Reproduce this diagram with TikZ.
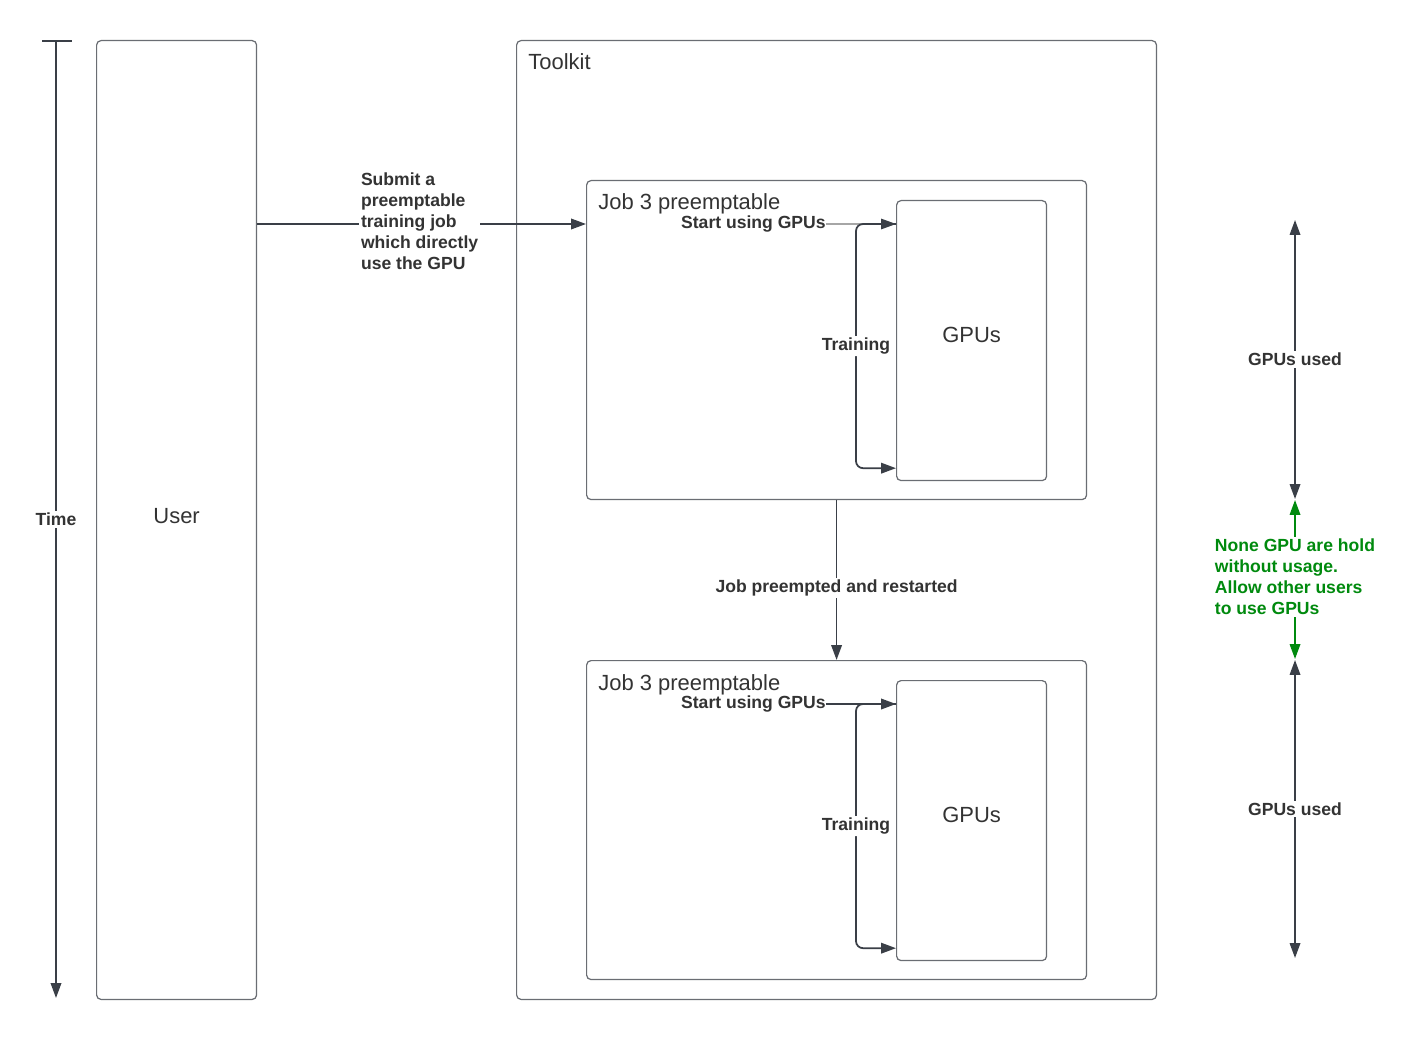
\documentclass[tikz,border=0pt]{standalone}
\usepackage{fontspec}
\setmainfont{Liberation Sans}
\usetikzlibrary{arrows.meta,calc}
\definecolor{linedark}{HTML}{3A3F47}
\definecolor{boxgray}{HTML}{6A6D73}
\definecolor{txtdark}{HTML}{333333}
\definecolor{notegreen}{HTML}{008A0E}

\begin{document}
\begin{tikzpicture}[
  x=0.02cm, y=-0.02cm,
  >={Triangle[length=8.5pt,width=6pt]},
  panel/.style={rectangle, draw=boxgray, line width=0.7pt, rounded corners=2.5pt, anchor=north west,
    inner sep=0pt},
  title/.style={anchor=base west, inner sep=0pt, text=txtdark, font=\fontsize{12.5}{15}\selectfont},
  lbl/.style={fill=white, inner sep=1pt, text=txtdark, font=\fontsize{10}{12}\selectfont\bfseries},
  conn/.style={draw=linedark, line width=1pt, ->},
  twoway/.style={draw=linedark, line width=1pt, <->}
]
\useasboundingbox (0,0) rectangle (1415,1040);

% time axis
\coordinate (ttop) at (56,41);
\coordinate (tbot) at (56,998);
\draw[draw=linedark, line width=1pt] ($(ttop)+(-14,0)$) -- ($(ttop)+(16,0)$);
\draw[conn] (ttop) -- node[lbl] {Time} (tbot);

% lanes
\node[panel, minimum width=3.2cm, minimum height=19.18cm] (user) at (96,40) {};
\node[title, anchor=center] at ($(user.center)+(0,-3.5)$) {User};
\node[panel, minimum width=12.8cm, minimum height=19.18cm] (toolkit) at (516,40) {};
\node[title] at (528,70) {Toolkit};

% first run
\node[panel, minimum width=10cm, minimum height=6.38cm] (jobA) at (586,180) {};
\node[title] at (598,210) {Job 3 preemptable};
\node[panel, minimum width=3cm, minimum height=5.6cm] (gpuA) at (896,200) {};
\node[title, anchor=center] at ($(gpuA.center)+(0,-6)$) {GPUs};
\node[lbl, fill=none, inner sep=0pt, anchor=east] (startA) at (826,224) {Start using GPUs};
\draw[draw=gray!70, line width=0.6pt, -{Triangle[length=8.5pt,width=6pt,color=linedark]}]
  (startA.east) -- (gpuA.west |- startA.east);
\draw[conn, rounded corners=4pt] (gpuA.west |- startA.east) -- ++(-40,0)
  |- node[lbl, pos=0.25] {Training} ($(gpuA.south west)+(0,-13)$);

% second run
\node[panel, minimum width=10cm, minimum height=6.38cm] (jobB) at (586,660) {};
\node[title] at (598,690) {Job 3 preemptable};
\node[panel, minimum width=3cm, minimum height=5.6cm] (gpuB) at (896,680) {};
\node[title, anchor=center] at ($(gpuB.center)+(0,-6)$) {GPUs};
\node[lbl, fill=none, inner sep=0pt, anchor=east] (startB) at (826,704) {Start using GPUs};
\draw[conn] (startB.east) -- (gpuB.west |- startB.east);
\draw[conn, rounded corners=4pt] (gpuB.west |- startB.east) -- ++(-40,0)
  |- node[lbl, pos=0.25] {Training} ($(gpuB.south west)+(0,-13)$);

% submit and restart
\coordinate (submitpt) at (420,224);
\draw[conn] (user.east |- submitpt) -- node[lbl, align=left, xshift=-0.04cm, yshift=0.05cm]
  {Submit a\\preemptable\\training job\\which directly\\use the GPU} (jobA.west |- submitpt);
\draw[conn] (jobA.south) -- node[lbl, pos=0.55] {Job preempted and restarted} (jobB.north);

% GPU usage over time
\coordinate (useA1) at (1295,220);
\coordinate (useA2) at (1295,499);
\coordinate (free1) at (1295,500);
\coordinate (free2) at (1295,659);
\coordinate (useB1) at (1295,660);
\coordinate (useB2) at (1295,958);
\draw[twoway] (useA1) -- node[lbl] {GPUs used} (useA2);
\draw[twoway, draw=notegreen] (free1) -- node[lbl, text=notegreen, align=left, yshift=0.05cm]
  {None GPU are hold\\without usage.\\Allow other users\\to use GPUs} (free2);
\draw[twoway] (useB1) -- node[lbl] {GPUs used} (useB2);
\end{tikzpicture}
\end{document}
